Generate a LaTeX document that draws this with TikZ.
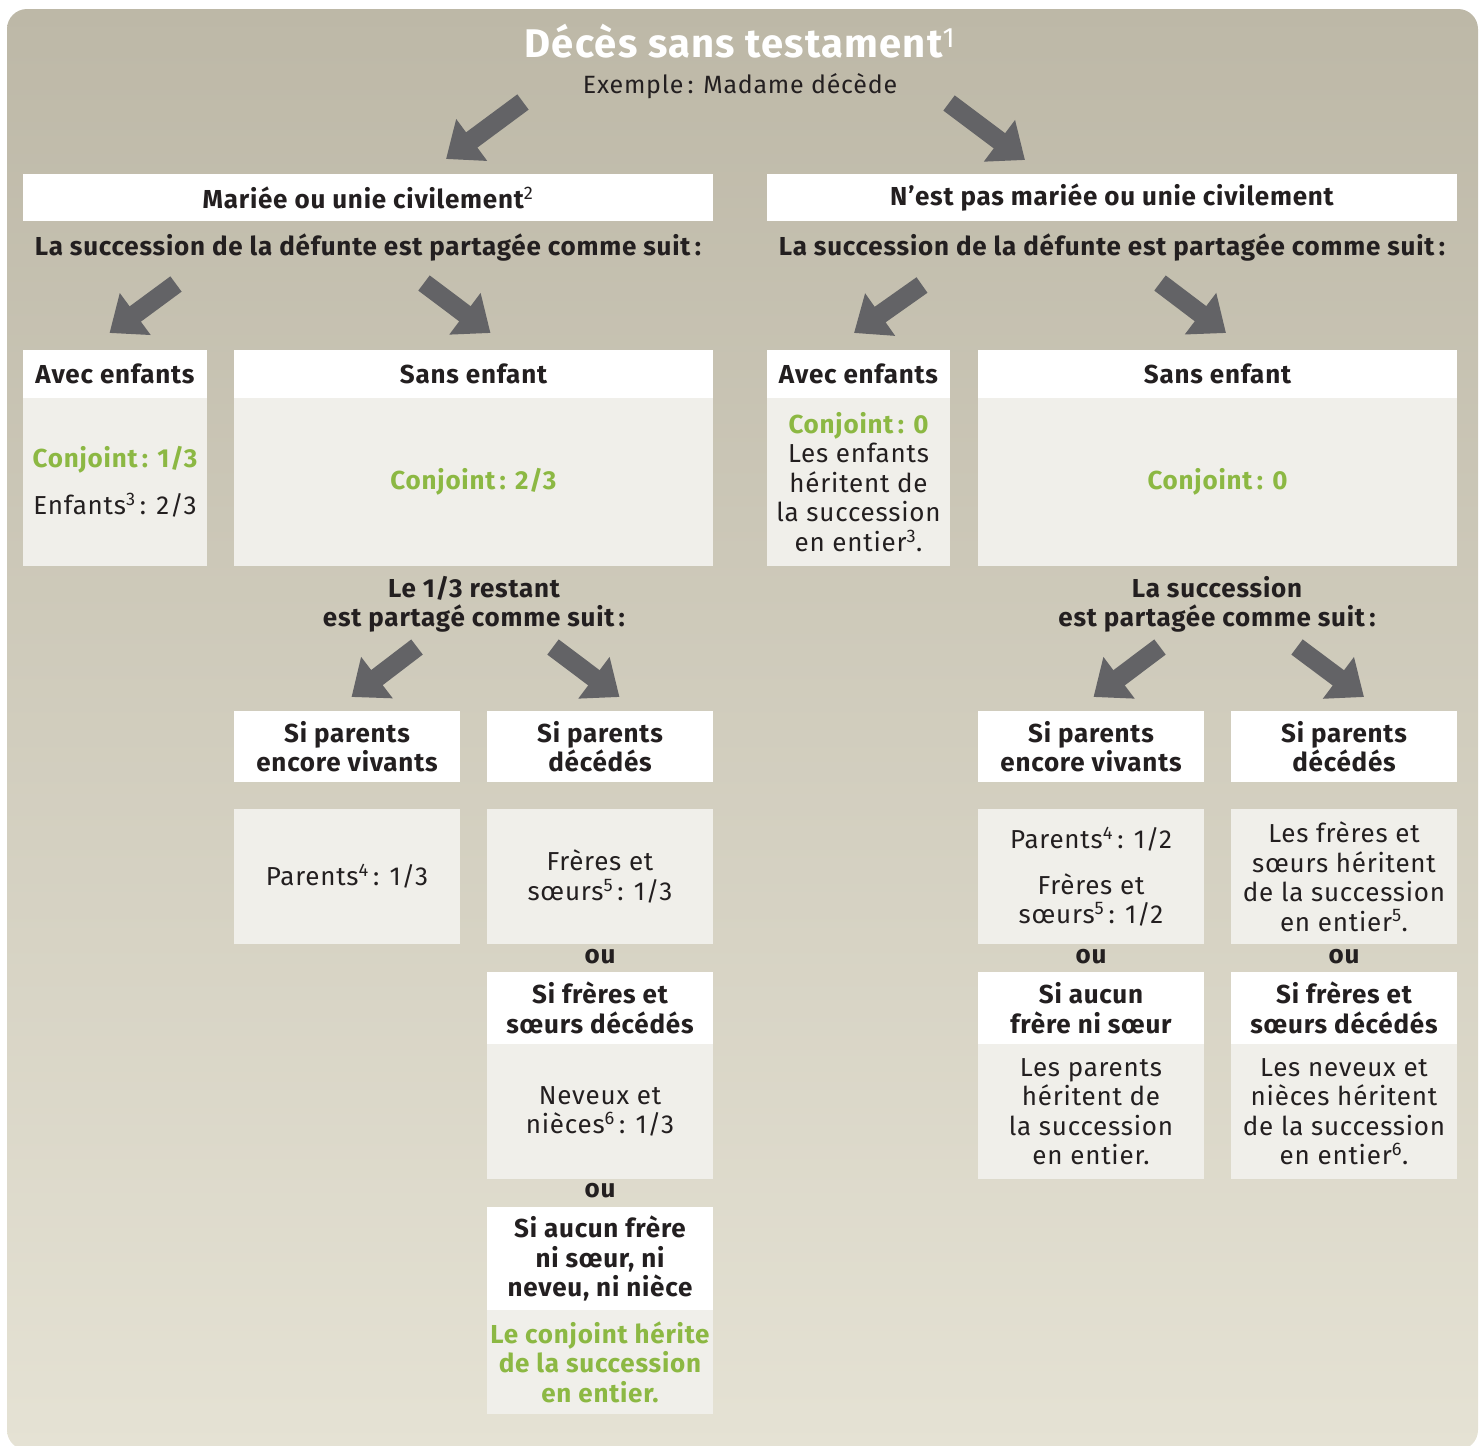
\documentclass[tikz,border=0pt]{standalone}
\usepackage{fontspec}
\setmainfont{Fira Sans}[LetterSpace=3]
\usetikzlibrary{arrows.meta}
\definecolor{bgtop}{HTML}{BDB8A7}
\definecolor{bgmid}{HTML}{D4CFBF}
\definecolor{bgbot}{HTML}{E5E2D4}
\definecolor{bodyfill}{HTML}{F0EFEA}
\definecolor{okgreen}{HTML}{8CB843}
\definecolor{txt}{HTML}{231F20}
\definecolor{arrowgray}{HTML}{636366}
\newcommand\supr[1]{\textsuperscript{\mdseries #1}}
\begin{document}
\begin{tikzpicture}[x=1pt,y=-1pt,
  hdrbox/.style={fill=white, inner sep=0pt, align=center, text=txt, font=\bfseries\fontsize{26}{29.5}\selectfont},
  bodybox/.style={fill=bodyfill, inner sep=0pt, align=center, text=txt, font=\fontsize{26}{29.5}\selectfont},
  freetext/.style={inner sep=0pt, align=center, text=txt, font=\bfseries\fontsize{26}{29.5}\selectfont},
  conj/.style={text=okgreen, font=\bfseries\fontsize{26}{29.5}\selectfont},
  bigarrow/.style={draw=arrowgray, line width=19pt, -{Triangle[length=32pt,width=50pt]}}]
\useasboundingbox (0,0) rectangle (1484,1446);
\begin{scope}
\clip (0,0) rectangle (1484,1446);
\shade[top color=bgtop, middle color=bgmid, bottom color=bgbot, rounded corners=20pt] (7,9) rectangle (1478,1450);
\end{scope}

% title
\node[inner sep=0pt, anchor=base, text=white, font=\bfseries\fontsize{40}{44}\selectfont] (title) at (740,57) {Décès sans testament\supr{1}};
\node[inner sep=0pt, anchor=base, text=txt, font=\fontsize{25}{30}\selectfont] (ex) at (740,93) {Exemple\,: Madame décède};

% level 1
\node[hdrbox, minimum width=690pt, minimum height=47pt] (mar) at (368,197.5) {Mariée ou unie civilement\supr{2}};
\node[hdrbox, minimum width=690pt, minimum height=47pt] (nmar) at (1112,197.5) {N’est pas mariée ou unie civilement};
\node[freetext] (partL) at (368,248) {La succession de la défunte est partagée comme suit\,:};
\node[freetext] (partR) at (1112,248) {La succession de la défunte est partagée comme suit\,:};

% level 2 headers
\node[hdrbox, minimum width=184pt, minimum height=48pt] (LAh) at (115,374) {Avec enfants};
\node[hdrbox, minimum width=479pt, minimum height=48pt] (LSh) at (473.5,374) {Sans enfant};
\node[hdrbox, minimum width=183pt, minimum height=48pt] (RAh) at (858.5,374) {Avec enfants};
\node[hdrbox, minimum width=479pt, minimum height=48pt] (RSh) at (1217.5,374) {Sans enfant};
% level 2 bodies
\node[bodybox, minimum width=184pt, minimum height=168pt] (LAb) at (115,482) {\textcolor{okgreen}{\bfseries Conjoint\,: 1/3}\\[17.5pt]Enfants\supr{3}\,: 2/3};
\node[bodybox, minimum width=479pt, minimum height=168pt] (LSb) at (473.5,482) {\textcolor{okgreen}{\bfseries Conjoint\,: 2/3}};
\node[bodybox, minimum width=183pt, minimum height=168pt] (RAb) at (858.5,482) {\textcolor{okgreen}{\bfseries Conjoint\,: 0}\\Les enfants\\héritent de\\la succession\\en entier\supr{3}.};
\node[bodybox, minimum width=479pt, minimum height=168pt] (RSb) at (1217.5,482) {\textcolor{okgreen}{\bfseries Conjoint\,: 0}};

\node[freetext] (restL) at (474,604.5) {Le 1/3 restant\\est partagé comme suit\,:};
\node[freetext] (restR) at (1217,604.5) {La succession\\est partagée comme suit\,:};

% level 3 headers
\node[hdrbox, minimum width=226pt, minimum height=71pt] (L1h) at (347,746.5) {Si parents\\encore vivants};
\node[hdrbox, minimum width=226pt, minimum height=71pt] (L2h) at (600,746.5) {Si parents\\décédés};
\node[hdrbox, minimum width=226pt, minimum height=71pt] (R1h) at (1091,746.5) {Si parents\\encore vivants};
\node[hdrbox, minimum width=226pt, minimum height=71pt] (R2h) at (1344,746.5) {Si parents\\décédés};
% level 3 bodies
\node[bodybox, minimum width=226pt, minimum height=135pt] (L1b) at (347,876.5) {Parents\supr{4}\,: 1/3};
\node[bodybox, minimum width=226pt, minimum height=135pt] (L2b) at (600,876.5) {Frères et\\sœurs\supr{5}\,: 1/3};
\node[bodybox, minimum width=226pt, minimum height=135pt] (R1b) at (1091,876.5) {Parents\supr{4}\,: 1/2\\[16.5pt]Frères et\\sœurs\supr{5}\,: 1/2};
\node[bodybox, minimum width=226pt, minimum height=135pt] (R2b) at (1344,876.5) {Les frères et\\sœurs héritent\\de la succession\\en entier\supr{5}.};

\node[freetext] (ou1) at (600,957) {ou};
\node[freetext] (ou2) at (1091,957) {ou};
\node[freetext] (ou3) at (1344,957) {ou};

% level 4
\node[hdrbox, minimum width=226pt, minimum height=72pt] (L2h2) at (600,1008) {Si frères et\\sœurs décédés};
\node[hdrbox, minimum width=226pt, minimum height=72pt] (R1h2) at (1091,1008) {Si aucun\\frère ni sœur};
\node[hdrbox, minimum width=226pt, minimum height=72pt] (R2h2) at (1344,1008) {Si frères et\\sœurs décédés};
\node[bodybox, minimum width=226pt, minimum height=135pt] (L2b2) at (600,1111.5) {Neveux et\\nièces\supr{6}\,: 1/3};
\node[bodybox, minimum width=226pt, minimum height=135pt] (R1b2) at (1091,1111.5) {Les parents\\héritent de\\la succession\\en entier.};
\node[bodybox, minimum width=226pt, minimum height=135pt] (R2b2) at (1344,1111.5) {Les neveux et\\nièces héritent\\de la succession\\en entier\supr{6}.};

\node[freetext] (ou4) at (600,1191) {ou};

% level 5
\node[hdrbox, minimum width=226pt, minimum height=103pt] (L2h3) at (600,1258.5) {Si aucun frère\\ni sœur, ni\\neveu, ni nièce};
\node[bodybox, minimum width=226pt, minimum height=104pt, conj] (L2b3) at (600,1362) {Le conjoint hérite\\de la succession\\en entier.};

% arrows
\coordinate (a1s) at (523,102);  \coordinate (a1e) at (446,159);
\coordinate (a2s) at (949,103);  \coordinate (a2e) at (1025,160);
\coordinate (b1s) at (176,284);  \coordinate (b1e) at (109.5,333);
\coordinate (b2s) at (424,283);  \coordinate (b2e) at (490.5,333);
\coordinate (b3s) at (922,285);  \coordinate (b3e) at (854,333);
\coordinate (b4s) at (1160,283); \coordinate (b4e) at (1226,333);
\coordinate (c1s) at (417,647);  \coordinate (c1e) at (351.5,697);
\coordinate (c2s) at (553,647);  \coordinate (c2e) at (619.5,697);
\coordinate (c3s) at (1160,647); \coordinate (c3e) at (1093.5,697);
\coordinate (c4s) at (1297,647); \coordinate (c4e) at (1364,697);
\foreach \p in {a1,a2,b1,b2,b3,b4,c1,c2,c3,c4}
  \draw[bigarrow] (\p s) -- (\p e);
\end{tikzpicture}
\end{document}
